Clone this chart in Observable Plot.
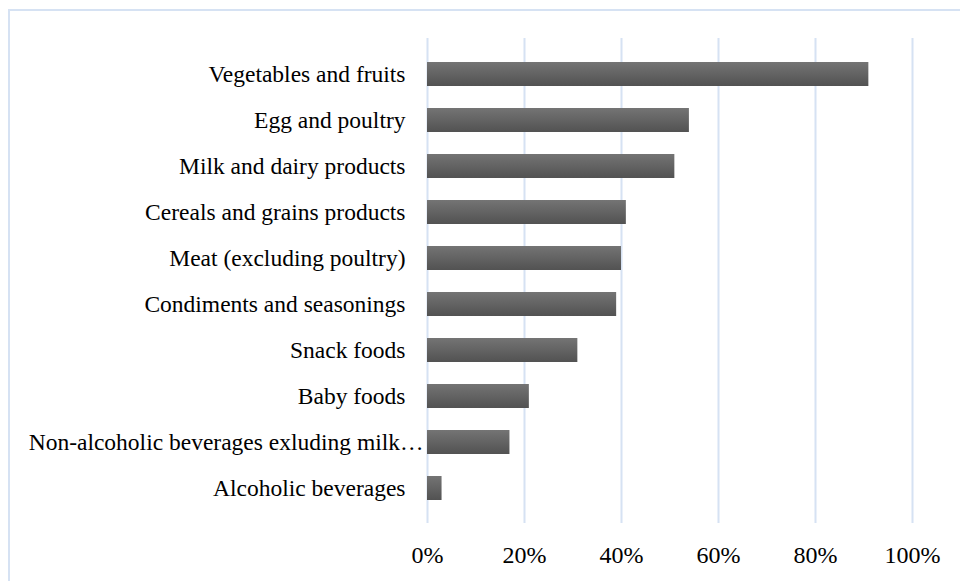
<!DOCTYPE html>
<html>
<head>
<meta charset="utf-8">
<script src="https://cdn.jsdelivr.net/npm/d3@7"></script>
<script src="https://cdn.jsdelivr.net/npm/@observablehq/plot@0.6"></script>
<style>
  html, body { margin: 0; padding: 0; background: #fff; }
  #wrap { position: relative; width: 960px; height: 581px; overflow: hidden; }
  #frame { position: absolute; left: 8px; top: 9px; width: 1000px; height: 700px;
           border-left: 2px solid #d6e2f3; border-top: 2px solid #d6e2f3; box-sizing: border-box; }
  #chart { position: absolute; left: 0; top: 0; }
</style>
</head>
<body>
<div id="wrap"><div id="frame"></div><div id="chart"></div></div>
<script>
const categories = [
  "Vegetables and fruits",
  "Egg and poultry",
  "Milk and dairy products",
  "Cereals and grains products",
  "Meat (excluding poultry)",
  "Condiments and seasonings",
  "Snack foods",
  "Baby foods",
  "Non-alcoholic beverages exluding milk\u2026",
  "Alcoholic beverages"
];
const values = [0.91, 0.54, 0.51, 0.41, 0.40, 0.39, 0.31, 0.21, 0.17, 0.03];
const xTicks = [0, 0.2, 0.4, 0.6, 0.8, 1.0];

const data = categories.map((c, i) => ({category: c, value: values[i]}));
const longLabel = categories[8];
const shortLabels = categories.filter(c => c !== longLabel);

const yText = {tickSize: 0, fontSize: 23.5, fontFamily: "Liberation Serif", fill: "#000", label: null};

const chart = Plot.plot({
  width: 960,
  height: 581,
  marginLeft: 427,
  marginRight: 48,
  marginTop: 38,
  marginBottom: 58,
  style: {background: "transparent", overflow: "visible"},
  x: {domain: [0, 1], ticks: xTicks, tickFormat: d3.format(".0%")},
  y: {domain: categories, padding: 0.48},
  marks: [
    Plot.gridX(xTicks, {stroke: "#d6e2f3", strokeOpacity: 1, strokeWidth: 2}),
    Plot.barX(data, {x: "value", y: "category", fill: "url(#barGrad)"}),
    Plot.axisX({ticks: xTicks, tickFormat: d3.format(".0%"), tickSize: 0, tickPadding: 22,
      fontSize: 24, fontFamily: "Liberation Sans Narrow", fill: "#000", label: null}),
    Plot.axisY(shortLabels, {...yText, tickPadding: 22}),
    Plot.axisY([longLabel], {...yText, tickPadding: 4})
  ]
});

const ns = "http://www.w3.org/2000/svg";
const defs = document.createElementNS(ns, "defs");
defs.innerHTML = '<linearGradient id="barGrad" x1="0" y1="0" x2="0" y2="1">' +
  '<stop offset="0" stop-color="#747474"/><stop offset="1" stop-color="#525252"/></linearGradient>';
chart.insertBefore(defs, chart.firstChild);
document.getElementById("chart").appendChild(chart);
</script>
</body>
</html>
